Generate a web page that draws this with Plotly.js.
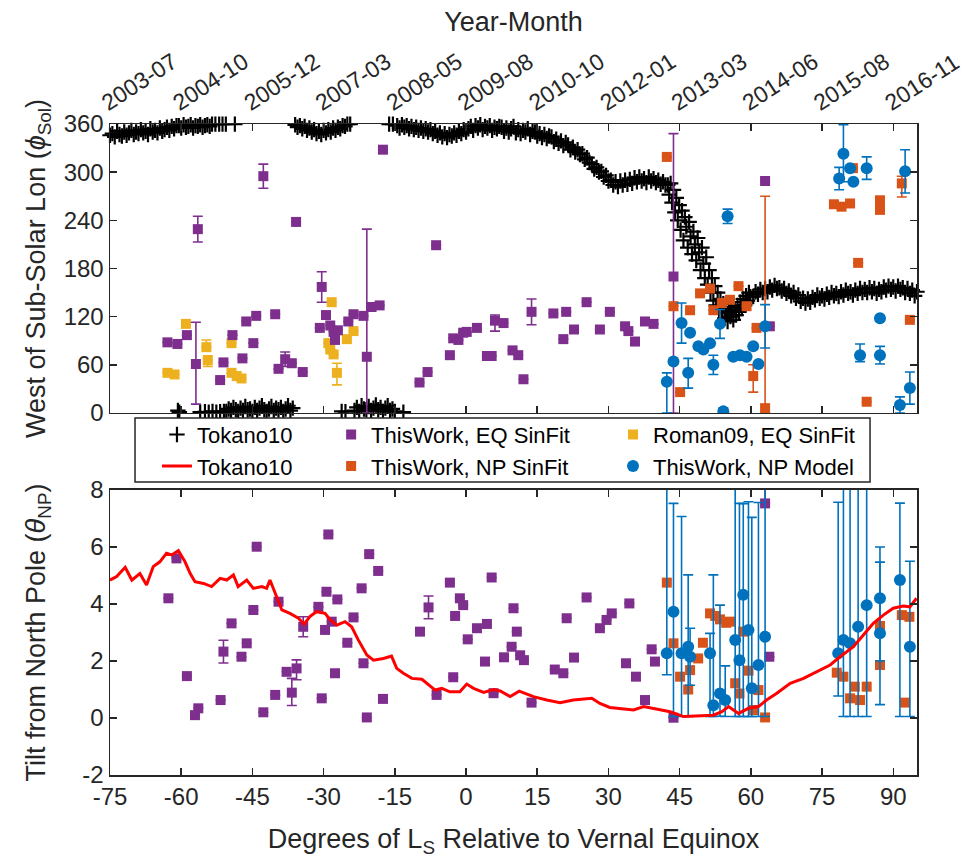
<!DOCTYPE html>
<html>
<head>
<meta charset="utf-8">
<script src="https://cdn.plot.ly/plotly-3.0.1.min.js"></script>
<style>html,body{margin:0;padding:0;background:#fff;}#chart{width:969px;height:858px;}</style>
</head>
<body>
<div id="chart"></div>
<script>
// ---------------- DATA ----------------
const lsTicks = [-75,-60,-45,-30,-15,0,15,30,45,60,75,90];
const lsTickLabels = ['-75','-60','-45','-30','-15','0','15','30','45','60','75','90'];
const yearMonthLabels = ['2003-07','2004-10','2005-12','2007-03','2008-05','2009-08','2010-10','2012-01','2013-03','2014-06','2015-08','2016-11'];
const lonTicks = [0,60,120,180,240,300,360];
const tiltTicks = [-2,0,2,4,6,8];
const tiltTickLabels = ['-2','0','2','4','6','8'];

// Tokano10 sub-solar longitude (+ markers), read in segments
const tokA_ls = [-77,-76.5,-76,-75.5,-75,-74.5,-74,-73.5,-73,-72.5,-72,-71.5,-71,-70.5,-70,-69.5,-69,-68.5,-68,-67.5,-67,-66.5,-66,-65.5,-65,-64.5,-64,-63.5,-63,-62.5,-62,-61.5,-61];
const tokA_lon = [344,349,343,350,346,348,344,351,347,345,350,346,349,352,347,350,348,353,349,351,347,354,350,352,349,355,351,353,356,352,357,354,358];
const tokB_ls = [-60.5,-60,-59.5,-59,-58.5,-58,-57.5,-57,-56.5,-56,-55.5,-55,-54.5,-54,-53.5,-52.8,-52,-51.3,-50.6,-48.7];
const tokB_lon = [358,355,359,356,357,359,355,358,357,359,356,358,359,357,359.8,359.8,359.8,359.8,359.8,359.8];
const tokC_ls = [-60.7,-60.4,-56,-55,-54.2,-53.4,-52.6,-51.8,-51,-50.5,-50,-49.5,-49,-48.5,-48,-47.5,-47,-46.5,-46,-45.5,-45,-44.5,-44,-43.5,-43,-42.5,-42,-41.5,-41,-40.5,-40,-39.5,-39,-38.5,-38,-37.5,-37,-36.5];
const tokC_lon = [3,1,1,1.5,1,2,1,1.5,2,2,5,3,7,4,2,6,3,8,4,5,2,7,3,6,9,4,2,5,8,3,6,4,7,2,5,9,3,6];
const tokD_ls = [-36,-35.5,-35,-34.5,-34,-33.5,-33,-32.5,-32,-31.5,-31,-30.5,-30,-29.5,-29,-28.5,-28,-27.5,-27,-26.5,-26,-25.5,-25,-24.4];
const tokD_lon = [359,356,358,354,357,352,355,350,353,348,351,347,352,349,353,350,355,352,356,354,358,357,359.8,359.8];
const tokE_ls = [-26.2,-25.4,-23.5,-23,-22.5,-22,-21.5,-21,-20.5,-20,-19.5,-19,-18.5,-18,-17.5,-17,-16.5,-16,-15.5,-15,-13.2];
const tokE_lon = [2,1.5,3,7,2,9,5,4,8,3,6,10,4,7,2,6,9,3,5,2,1];
const tokF_ls = [-16.2,-15.4,-14.5,-14,-13.5,-13,-12.5,-12,-11.5,-11,-10.5,-10,-9.5,-9,-8.5,-8,-7.5,-7,-6.5,-6,-5.5,-5,-4.5,-4,-3.5,-3,-2.5,-2,-1.5,-1,-0.5,0];
const tokF_lon = [359.8,359.8,358,355,359,356,358,354,357,353,356,352,355,351,354,350,353,348,351,346,349,344,348,343,347,345,349,346,351,348,353,350];
const tokG_ls = [0.5,1,1.5,2,2.5,3,3.5,4,4.5,5,5.5,6,6.5,7];
const tokG_lon = [354,357,352,358,355,359,353,357,355,358,352,356,354,357];
const tokH_ls = [7.5,8,8.5,9,9.5,10,10.5,11,11.5,12,12.5,13,13.5,14,14.5,15,15.5,16,16.5,17,17.5,18,18.5,19,19.5,20,20.5,21,21.5,22,22.5,23,23.5,24,24.5,25,25.5,26,26.5,27,27.5,28,28.5,29,29.5,30,30.5,31,31.5,32,32.5,33,33.5,34,34.5,35,35.5,36,36.5,37,37.5,38,38.5,39,39.5,40,40.5,41,41.5,42];
const tokH_lon = [356,351,355,350,354,357,349,353,348,352,350,354,347,351,350,345,348,343,347,342,345,344,338,341,336,339,333,337,334,328,331,325,328,322,323,316,318,312,310,304,306,300,301,294,296,289,290,284,288,282,289,284,290,285,291,286,293,288,294,289,292,287,294,289,292,287,290,285,288,284];
const tokI_ls = [42.5,42.8,43.1,43.4,43.7,44,44.3,44.6,44.9,45.2,45.5,45.8,46.1,46.4,46.7,47,47.3,47.6,47.9,48.2,48.5,48.8,49.1,49.4,49.7,50,50.3,50.6,50.9,51.2,51.5,51.8,52.1,52.4,52.7,53,53.3,53.6,53.9,54.2,54.5,54.8,55.1,55.4,55.7,56,56.3,56.6,56.9,57.2,57.5,57.8,58.1,58.4,58.7,59,59.3,59.6,59.9];
const tokI_lon = [284,272,286,262,278,250,268,240,259,228,252,215,244,232,206,238,220,198,226,210,190,218,200,178,206,186,168,194,160,178,150,168,140,158,134,150,128,142,124,136,118,130,114,126,120,132,116,128,122,134,126,138,130,142,134,146,140,150,145];
const tokJ_ls = [60.5,61,61.5,62,62.5,63,63.5,64,64.5,65,65.5,66,66.5,67,67.5,68,68.5,69,69.5,70,70.5,71,71.5,72,72.5,73,73.5,74,74.5,75,75.5,76,76.5,77,77.5,78,78.5,79,79.5,80,80.5,81,81.5,82,82.5,83,83.5,84,84.5,85,85.5,86,86.5,87,87.5,88,88.5,89,89.5,90,90.5,91,91.5,92,92.5,93,93.5,94,94.5,95,95.5,96,96.5];
const tokJ_lon = [145,151,148,154,150,155,151,157,153,159,155,156,152,155,149,152,146,150,143,147,139,143,137,142,138,144,141,147,143,146,142,148,144,150,146,149,145,151,147,153,149,151,147,153,149,155,150,154,150,156,151,155,149,154,151,157,153,158,154,157,152,158,154,156,150,155,149,153,146,151,147,150,148];

// ThisWork, EQ SinFit (top panel)
const eqLs    = [-62.9,-60.8,-58.8,-56.5,-56.9,-51.8,-51.1,-49.2,-47.1,-46.3,-44.8,-44.2,-42.7,-40.2,-39.5,-38.1,-36.7,-35.8,-34.4,-30.8,-30.4,-29.5,-28.6,-27.9,-27.6,-27.0,-24.8,-23.7,-21.6,-20.9,-19.9,-18.2,-17.5,-9.8,-8.1,-6.3,-3.4,-2.7,-1.6,-0.6,0.15,2.3,4.4,5.4,6.1,7.9,9.8,11.0,12.1,13.8,18.4,20.5,21.1,22.75,25.4,28.2,30.3,33.5,34.2,35.6,37.7,39.5,43.7,63.0,64.0];
const eqLon   = [88,86,97,229,61,41,63,97,68,114,87,121,295,123,55,67,62,238,51,106,157,122,109,101,91,103,114,123,121,70,132,134,328,38,51,209,72,93,91,100,101,106,71,71,115,112,78,72,42,126,124,92,126,104,138,104,126,108,102,89,114,111,170,289,108];
const eqLonUp = [0,0,0,16,52,0,0,0,0,0,0,0,15,0,0,9,0,0,0,0,19,0,0,0,0,0,0,0,0,159,0,0,0,0,0,0,0,0,0,0,0,0,0,0,7,0,0,0,0,16,0,0,0,0,0,0,0,0,0,0,0,0,178,0,0];
const eqLonDn = [0,0,0,16,50,0,0,0,0,0,0,0,15,0,0,9,0,0,0,0,19,0,0,0,0,0,0,0,0,70,0,0,0,0,0,0,0,0,0,0,0,0,0,0,13,0,0,0,0,16,0,0,0,0,0,0,0,0,0,0,0,0,170,0,0];

// Roman09, EQ SinFit (top panel)
const romLs    = [-62.9,-61.4,-59.0,-54.7,-54.4,-49.4,-49.4,-48.3,-47.3,-29.0,-28.6,-28.3,-27.9,-27.2,-25.1,-23.7];
const romLon   = [50,48,111,82,66,87,50,46,43,87,79,138,73,50,92,102];
const romLonUp = [0,0,0,9,0,0,0,0,0,0,0,0,0,12,0,0];
const romLonDn = [0,0,0,0,8,0,0,0,0,0,0,0,0,15,0,0];

// ThisWork, NP SinFit (top panel)
const npsLs    = [42.3,43.7,45.1,47.2,49.3,51.4,52.1,53.9,55.6,57.4,59.1,60.5,61.2,63.0,77.5,79.1,80.9,81.5,82.6,84.4,87.2,87.2,91.8,93.5];
const npsLon   = [319,133,26,128,149,155,128,137,141,158,133,46,106,6,260,257,261,305,187,14,265,253,286,116];
const npsLonUp = [0,0,0,0,0,0,0,0,0,0,0,14,0,264,0,0,0,0,0,0,0,0,9,0];
const npsLonDn = [0,0,0,0,0,0,0,0,0,0,0,20,0,6,0,0,0,0,0,0,0,0,17,0];

// ThisWork, NP Model (top panel)
const npmLs    = [42.3,43.7,45.4,46.8,47.2,48.95,50.0,51.4,52.1,53.5,54.2,55.1,56.3,57.7,59.1,60.5,61.6,63.0,78.6,79.5,80.9,81.6,83.0,84.4,87.2,87.2,91.4,92.5,93.5];
const npmLon   = [39,64,112,50,100,83,79,87,60,111,2,245,70,72,70,83,61,108,292,323,305,288,72,305,118,72,10,301,31];
const npmLonUp = [11,0,25,18,0,0,0,0,12,18,4,9,0,0,0,0,0,27,14,36,0,0,14,14,0,11,10,27,20];
const npmLonDn = [39,0,25,19,0,0,0,0,12,18,2,9,0,0,0,0,0,27,14,35,0,0,8,14,0,11,10,27,20];

// Tokano10 tilt (red line, bottom panel)
const redLs   = [-75,-73.6,-71.8,-70.4,-68.7,-67.3,-65.9,-64.5,-63.1,-62.0,-60.6,-59.2,-58.1,-57.1,-55.3,-53.6,-51.8,-50.4,-49.0,-48.0,-46.2,-44.8,-43.0,-42.0,-41.3,-40.2,-38.8,-37.1,-35.3,-34.1,-32.9,-31.5,-29.7,-28.6,-27.2,-25.5,-24.1,-22.7,-20.9,-19.5,-17.4,-15.7,-14.6,-13.2,-11.4,-9.3,-7.9,-6.5,-5.1,-3.4,-1.3,0.15,1.6,3.7,5.8,7.2,9.3,11.2,14.2,17.0,19.8,22.6,26.5,28.2,30.3,32.4,35.3,37.4,40.2,43.0,45.8,49.3,52.1,53.9,55.3,57.4,59.5,61.6,63.3,65.4,68.3,71.1,73.9,76.7,78.8,81.6,83.7,85.8,87.9,90.0,92.1,93.5,94.9];
const redTilt = [4.84,4.96,5.29,4.84,5.07,4.67,5.31,5.48,5.78,5.72,5.87,5.48,5.07,4.78,4.72,4.61,4.9,4.84,5.02,4.61,4.84,4.55,4.61,4.55,4.84,4.37,3.79,3.67,3.5,3.29,3.56,3.73,3.67,3.44,3.26,3.38,3.2,2.74,2.21,2.03,2.09,2.17,1.74,1.57,1.39,1.36,1.16,0.98,1.04,0.92,0.92,1.19,1.04,0.9,1.0,0.95,0.75,0.94,0.75,0.63,0.54,0.63,0.69,0.51,0.37,0.34,0.28,0.4,0.3,0.22,0.05,0.07,0.1,0.22,0.4,0.16,0.34,0.4,0.63,0.86,1.22,1.39,1.62,1.86,2.15,2.5,2.91,3.32,3.61,3.85,3.93,3.9,4.2];

// ThisWork, EQ SinFit tilt (bottom panel)
const eqTLs   = [-62.7,-61.0,-58.8,-57.1,-56.4,-51.7,-51.1,-49.4,-47.3,-46.2,-44.8,-44.1,-42.7,-40.2,-39.5,-37.8,-36.7,-35.7,-34.3,-31.1,-30.4,-29.7,-29.4,-29.0,-28.3,-27.6,-27.1,-25.0,-23.7,-22.0,-21.6,-20.9,-20.4,-18.5,-17.5,-9.7,-7.9,-6.2,-3.4,-2.7,-2.3,-1.3,-0.6,0.36,2.3,4.0,4.4,5.4,5.8,8.0,9.6,10.0,10.7,11.4,12.2,13.8,18.7,20.5,21.2,22.75,25.4,28.2,29.6,30.7,33.7,34.4,35.8,37.7,39.1,39.8,43.7,63.0,63.9];
const eqTilt  = [4.2,5.6,1.47,0.1,0.34,0.63,2.33,3.32,2.15,2.62,3.79,6.01,0.2,0.81,4.08,1.62,0.89,1.74,3.2,3.9,0.69,3.09,4.43,6.44,3.38,1.57,4.16,2.64,3.53,4.55,1.92,0.02,5.75,5.16,0.67,3.03,3.88,0.81,4.75,1.43,3.58,4.2,3.96,2.76,3.15,1.98,3.3,4.93,0.87,2.13,2.5,3.85,3.03,2.2,2.03,0.54,1.7,1.57,3.5,2.12,4.23,3.15,3.44,3.67,1.92,4.02,1.45,0.63,2.41,1.98,0.01,7.53,2.15];
const eqTiltUp = [0,0,0,0,0,0,0.4,0,0,0,0,0,0,0,0,0,0.5,0.3,0.35,0,0,0,0,0,0,0,0,0,0,0,0,0,0,0,0,0,0.4,0,0,0,0,0,0,0,0,0,0,0,0,0,0,0,0,0,0,0,0,0,0,0,0,0,0,0,0,0,0,0,0,0,0,1.0,0];
const eqTiltDn = [0,0,0,0,0,0,0.4,0,0,0,0,0,0,0,0,0,0.45,0.4,0.35,0,0,0,0,0,0,0,0,0,0,0,0,0,0,0,0,0,0.4,0,0,0,0,0,0,0,0,0,0,0,0,0,0,0,0,0,0,0,0,0,0,0,0,0,0,0,0,0,0,0,0,0,0,0,0];

// ThisWork, NP SinFit tilt (bottom panel)
const npsTLs  = [42.3,43.7,45.1,46.8,47.2,48.9,49.9,51.4,52.5,53.5,54.8,55.6,56.7,57.6,58.4,59.5,60.5,61.6,63.0,78.1,79.5,80.9,81.9,83.0,84.4,87.2,87.2,91.8,93.4,92.5];
const npsTilt = [4.75,2.62,1.45,1.0,1.68,2.09,2.64,3.67,3.58,3.46,3.34,3.38,1.22,0.86,3.03,1.66,0.28,0.98,0.02,1.59,1.45,0.69,1.1,0.63,1.1,3.23,1.86,3.61,3.55,0.54];

// ThisWork, NP Model tilt (bottom panel)
const npmTLs   = [42.3,43.7,45.4,46.8,47.2,51.4,52.1,53.5,54.6,56.7,57.6,58.4,59.5,60.2,61.6,63.0,78.4,79.5,80.9,82.6,84.4,87.2,87.2,91.4,93.5];
const npmTilt  = [2.27,3.73,2.27,2.5,2.15,2.27,0.45,0.86,0.63,2.74,2.03,4.32,3.09,1.04,1.86,2.85,2.27,2.74,2.62,3.2,3.96,4.2,2.97,4.84,2.5];
const npmTiltUp = [6.5,3.8,4.8,2.52,1.0,0.7,4.57,3.1,1.2,6,5.5,3.2,4.5,6,5.7,6,5.3,6,6,6,6,1.8,2.5,2.7,3.0];
const npmTiltDn = [0.75,3.68,2.22,2.45,1.0,2.22,0.4,0.8,0.58,2.69,1.98,4.27,3.04,0.99,1.81,2.8,1.5,2.69,2.57,3.15,3.91,2.2,2.5,4.79,2.45];

// ---------------- BUILD ----------------
const tokLs  = [].concat(tokA_ls,tokB_ls,tokC_ls,tokD_ls,tokE_ls,tokF_ls,tokG_ls,tokH_ls,tokI_ls,tokJ_ls);
const tokLon = [].concat(tokA_lon,tokB_lon,tokC_lon,tokD_lon,tokE_lon,tokF_lon,tokG_lon,tokH_lon,tokI_lon,tokJ_lon);

const PURPLE='#7E2F8E', ORANGE='#D95319', YELLOW='#EDB120', BLUE='#0072BD', RED='#FF0000';
const FONT='"Liberation Sans", Arial, Helvetica, sans-serif';
const AX='#262626';

function err(up, dn, color){
  return {type:'data', symmetric:false, array:up, arrayminus:dn, color:color, thickness:1.6, width:5};
}

const traces = [
  {x:tokLs, y:tokLon, xaxis:'x', yaxis:'y', type:'scatter', mode:'markers', name:'Tokano10',
   marker:{symbol:'cross-thin', size:11, line:{color:'#000', width:2.2}, color:'#000'},
   cliponaxis:false, legend:'legend'},
  {x:romLs, y:romLon, xaxis:'x', yaxis:'y', type:'scatter', mode:'markers', name:'Roman09, EQ SinFit',
   marker:{symbol:'square', size:10, color:YELLOW}, error_y:err(romLonUp,romLonDn,YELLOW), legend:'legend3'},
  {x:eqLs, y:eqLon, xaxis:'x', yaxis:'y', type:'scatter', mode:'markers', name:'ThisWork, EQ SinFit',
   marker:{symbol:'square', size:10, color:PURPLE}, error_y:err(eqLonUp,eqLonDn,PURPLE), legend:'legend2'},
  {x:npsLs, y:npsLon, xaxis:'x', yaxis:'y', type:'scatter', mode:'markers', name:'ThisWork, NP SinFit',
   marker:{symbol:'square', size:10, color:ORANGE}, error_y:err(npsLonUp,npsLonDn,ORANGE), legend:'legend2'},
  {x:npmLs, y:npmLon, xaxis:'x', yaxis:'y', type:'scatter', mode:'markers', name:'ThisWork, NP Model',
   marker:{symbol:'circle', size:12, color:BLUE}, error_y:err(npmLonUp,npmLonDn,BLUE), legend:'legend3'},

  {x:eqTLs, y:eqTilt, xaxis:'x2', yaxis:'y2', type:'scatter', mode:'markers', name:'ThisWork, EQ SinFit',
   marker:{symbol:'square', size:10, color:PURPLE}, error_y:err(eqTiltUp,eqTiltDn,PURPLE), showlegend:false},
  {x:npsTLs, y:npsTilt, xaxis:'x2', yaxis:'y2', type:'scatter', mode:'markers', name:'ThisWork, NP SinFit',
   marker:{symbol:'square', size:10, color:ORANGE}, showlegend:false},
  {x:npmTLs, y:npmTilt, xaxis:'x2', yaxis:'y2', type:'scatter', mode:'markers', name:'ThisWork, NP Model',
   marker:{symbol:'circle', size:12, color:BLUE}, error_y:err(npmTiltUp,npmTiltDn,BLUE), showlegend:false},
  {x:redLs, y:redTilt, xaxis:'x2', yaxis:'y2', type:'scatter', mode:'lines', name:'Tokano10',
   line:{color:RED, width:3}, legend:'legend'}
];

const axBase = {showline:true, linecolor:AX, linewidth:1.5, mirror:'allticks', ticks:'inside', ticklen:7,
  tickwidth:1.5, tickcolor:AX, showgrid:false, zeroline:false, tickfont:{family:FONT, size:24, color:AX}};

const legBase = {xanchor:'left', yanchor:'top', bgcolor:'rgba(0,0,0,0)', borderwidth:0,
  font:{family:FONT, size:22, color:'#000'}, orientation:'v', tracegroupgap:0};

const layout = {
  width:969, height:858,
  margin:{l:110, r:52, t:124, b:83},
  paper_bgcolor:'#fff', plot_bgcolor:'#fff',
  font:{family:FONT, color:AX},
  showlegend:true,
  xaxis: Object.assign({}, axBase, {domain:[0,1], anchor:'y', side:'top', range:[-75,95],
    tickmode:'array', tickvals:lsTicks, ticktext:yearMonthLabels, tickangle:-33, ticklabeloverflow:'allow',
    ticklabelshift:-8,
    tickfont:{family:FONT, size:23, color:AX},
    title:{text:'Year-Month', font:{family:FONT, size:27, color:AX}, standoff:8}}),
  yaxis: Object.assign({}, axBase, {domain:[0.5561,1], anchor:'x', range:[0,360],
    tickmode:'array', tickvals:lonTicks,
    title:{text:'West of Sub-Solar Lon (<i>ϕ</i><sub>Sol</sub>)', font:{family:FONT, size:27, color:AX}}}),
  xaxis2: Object.assign({}, axBase, {domain:[0,1], anchor:'y2', range:[-75,95],
    tickmode:'array', tickvals:lsTicks, ticktext:lsTickLabels,
    title:{text:'Degrees of L<sub>S</sub> Relative to Vernal Equinox', font:{family:FONT, size:27, color:AX}}}),
  yaxis2: Object.assign({}, axBase, {domain:[0,0.4378], anchor:'x2', range:[-2,8],
    tickmode:'array', tickvals:tiltTicks, ticktext:tiltTickLabels,
    title:{text:'Tilt from North Pole (<i>θ</i><sub>NP</sub>)', font:{family:FONT, size:27, color:AX}}}),
  legend:  Object.assign({}, legBase, {x:0.0582, y:0.5550}),
  legend2: Object.assign({}, legBase, {x:0.2740, y:0.5550}),
  legend3: Object.assign({}, legBase, {x:0.6233, y:0.5550}),
  shapes:[{type:'rect', xref:'paper', yref:'paper', x0:0.031, x1:0.9418, y0:0.4501, y1:0.5484,
    line:{color:AX, width:1.5}, fillcolor:'#fff', layer:'above'}]
};

Plotly.newPlot('chart', traces, layout, {displayModeBar:false, staticPlot:true});
</script>
</body>
</html>
